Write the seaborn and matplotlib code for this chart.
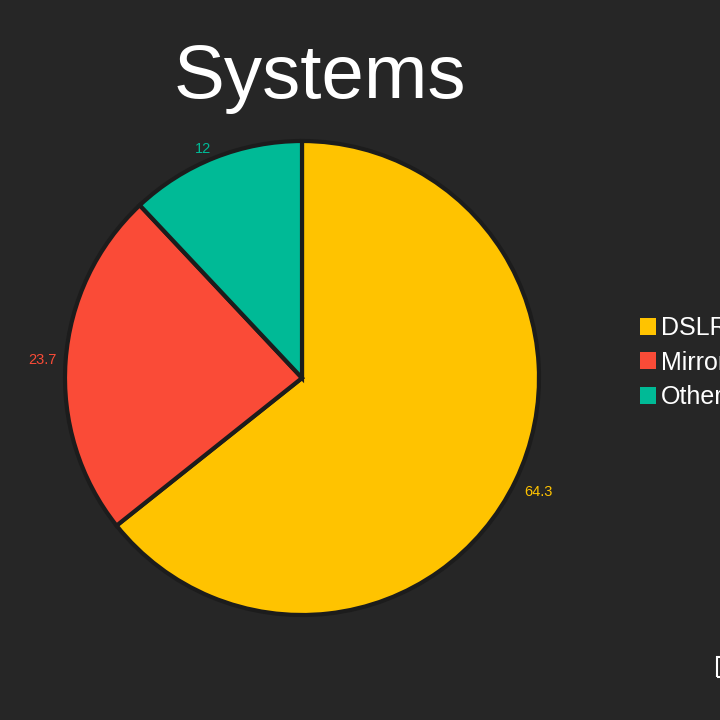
import matplotlib
matplotlib.use('Agg')
import matplotlib.pyplot as plt
import matplotlib.patches as mpatches
import seaborn as sns

# data
systems = ['DSLR', 'Mirrorless', 'Others']
shares = [64.3, 23.7, 12]
slice_colors = ['#FFC300', '#FA4B37', '#00BA96']

bg = '#262626'

sns.set_theme(style='dark', rc={'figure.facecolor': bg, 'axes.facecolor': bg,
                                'savefig.facecolor': bg})
plt.rcParams['font.family'] = ['Liberation Sans', 'DejaVu Sans']

palette = sns.color_palette(slice_colors)

fig = plt.figure(figsize=(7.2, 7.2), dpi=100)
# pie centre ~ (302, 378) px, radius ~ 237 px; pie limits are +-1.25 radius
size = 237 * 2.5
ax = fig.add_axes([(302 - size / 2) / 720, (720 - 378 - size / 2) / 720,
                   size / 720, size / 720])

wedges, texts = ax.pie(shares, labels=[f'{v:g}' for v in shares], colors=palette,
                       startangle=90, counterclock=False, labeldistance=1.04,
                       wedgeprops={'edgecolor': '#1c1c1c', 'linewidth': 3},
                       textprops={'fontsize': 10.5})
for t, c in zip(texts, palette):
    t.set_color(c)
texts[0].set_va('top')

fig.text(320 / 720, 1 - 98 / 720, 'Systems', color='white', fontsize=55,
         ha='center', va='baseline')

handles = [mpatches.Patch(facecolor=c, edgecolor='none', label=s)
           for s, c in zip(systems, palette)]
leg = fig.legend(handles=handles, loc='upper left',
                 bbox_to_anchor=(630 / 720, 1 - 306 / 720),
                 frameon=False, fontsize=18, labelcolor='white',
                 handlelength=0.65, handleheight=0.65, handletextpad=0.2,
                 labelspacing=0.42, borderaxespad=0)

# small box cut off at the right edge
fig.patches.append(mpatches.Rectangle((717 / 720, 1 - 677 / 720), 20 / 720, 20 / 720,
                                      transform=fig.transFigure, fill=False,
                                      edgecolor='white', linewidth=1.5))

fig.savefig('out.png', dpi=100)
